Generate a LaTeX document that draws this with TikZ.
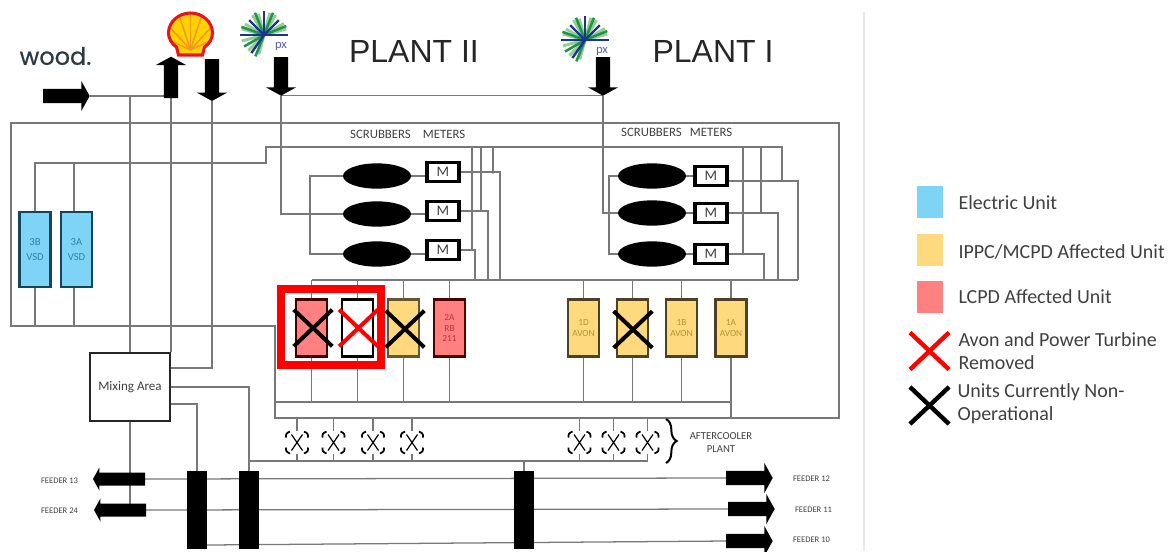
\documentclass[tikz,border=0pt]{standalone}
\usepackage{fontspec}
\setmainfont{Carlito}
\newfontfamily\plantfont{Liberation Sans}
\newfontfamily\woodfont[FakeBold=0.7]{Poppins}
\usetikzlibrary{shapes.arrows,shapes.geometric,shapes.misc,backgrounds,decorations.pathreplacing}
\definecolor{wirec}{rgb}{0.47,0.47,0.47}
\definecolor{textc}{rgb}{0.25,0.25,0.25}
\definecolor{elecc}{rgb}{0.49,0.83,0.96}
\definecolor{ippcc}{rgb}{1,0.85,0.49}
\definecolor{lcpdc}{rgb}{1,0.5,0.5}
\definecolor{vsdline}{rgb}{0.08,0.27,0.37}
\definecolor{vsdtext}{rgb}{0.2,0.51,0.67}
\definecolor{lcpdtext}{rgb}{0.75,0.2,0.24}
\definecolor{ippctext}{rgb}{0.73,0.57,0.2}
\tikzset{every picture/.style={line width=0.75pt}}
\tikzset{
  wire/.style={color=wirec,line width=0.95pt},
  blockarrow/.style={single arrow,fill=black,inner sep=4.9pt,outer sep=0pt,minimum height=#1,
    minimum width=21.75pt,single arrow head extend=6pt,single arrow tip angle=122,anchor=tail},
  feedarrow/.style={blockarrow=#1,inner sep=4.5pt,minimum width=16.5pt,single arrow head extend=3.75pt},
  unitbox/.style={rectangle,draw=#1,line width=1.9pt,minimum width=23pt,minimum height=43pt,inner sep=0pt,
    outer sep=0pt,align=center,font=\fontsize{7}{7.8}\selectfont},
  vsdbox/.style={unitbox=vsdline,fill=elecc,text=vsdtext,minimum height=56.5pt,font=\fontsize{8}{11.2}\selectfont},
  scrubber/.style={ellipse,fill=black,minimum width=51pt,minimum height=19pt,inner sep=0pt,outer sep=0pt},
  meterbox/.style={rectangle,draw=black,line width=2.4pt,minimum width=24pt,minimum height=14.5pt,inner sep=0pt,
    outer sep=1pt,text=textc,font=\fontsize{11}{11}\selectfont},
  barbox/.style={rectangle,fill=black,minimum width=15pt,minimum height=58.5pt,inner sep=0pt,outer sep=0pt},
  fanbox/.style={rectangle,minimum width=17pt,minimum height=17pt,inner sep=0pt,outer sep=0pt},
  crossmark/.style={cross out,draw=#1,line width=3pt,minimum width=26pt,minimum height=24.5pt,inner sep=0pt},
  legendbox/.style={rectangle,fill=#1,minimum width=19.5pt,minimum height=24pt,inner sep=0pt},
  legendtext/.style={anchor=west,inner sep=0pt,text=textc,align=left,font=\fontsize{15}{17.2}\selectfont},
  smalltext/.style={inner sep=0pt,text=textc,font=\fontsize{9.6}{9.6}\selectfont},
  feedertext/.style={inner sep=0pt,text=textc,font=\fontsize{6.4}{6.4}\selectfont},
  planttext/.style={inner sep=0pt,text=black!85,font=\plantfont\fontsize{24}{24}\selectfont},
  pics/pxlogo/.style={code={
    \foreach \a/\r in {105/20,135/22,165/23,195/23,210/22,240/23,255/22,285/23,300/23,330/23,345/23}
      \draw[color={rgb,255:red,150;green,205;blue,150},line width=2.2pt] (0,0) -- (-\a:\r);
    \foreach \a/\r in {112/23,150/23,200/24,248/24,292/24,338/24}
      \draw[color={rgb,255:red,30;green,150;blue,70},line width=1.9pt] (0,0) -- (-\a:\r);
    \foreach \a/\r in {125/22,180/24,225/21,270/24,315/21,0/24}
      \draw[color={rgb,255:red,30;green,50;blue,150},line width=1.8pt] (0,0) -- (-\a:\r);
    \node[inner sep=0pt,text={rgb,255:red,90;green,95;blue,175},font=\fontsize{9.5}{9.5}\selectfont] (#1) at (17,-11) {px};
  }},
}

\begin{document}
\begin{tikzpicture}[x=0.75pt,y=0.75pt,yscale=-1,xscale=1]
\useasboundingbox (0,0) rectangle (1169,551);

%Logos
\node[inner sep=0pt,text={rgb,255:red,43;green,58;blue,69},font=\woodfont\fontsize{18}{18}\selectfont] (woodlogo) at (55.5,56) {wood.};
\begin{scope}[shift={(190.5,34)}]
\begin{scope}
\clip (-12,21) -- (12,21) -- (14,13) .. controls (19,10) and (22,4) .. (22,-1) .. controls (22,-12) and (12,-21) .. (0,-21) .. controls (-12,-21) and (-22,-12) .. (-22,-1) .. controls (-22,4) and (-19,10) .. (-14,13) -- cycle;
\fill[color={rgb,255:red,255;green,210;blue,0}] (-25,-25) rectangle (25,25);
\foreach \a in {205,228,252,270,288,312,335}
  \draw[color={rgb,255:red,245;green,150;blue,30},line width=1.1pt] (0,16) -- +(\a:40);
\end{scope}
\draw[color={rgb,255:red,230;green,20;blue,30},line width=2.3pt] (-12,21) -- (12,21) -- (14,13) .. controls (19,10) and (22,4) .. (22,-1) .. controls (22,-12) and (12,-21) .. (0,-21) .. controls (-12,-21) and (-22,-12) .. (-22,-1) .. controls (-22,4) and (-19,10) .. (-14,13) -- cycle;
\end{scope}
\pic at (264,35) {pxlogo=pxtextb};
\pic at (585,40) {pxlogo=pxtexta};

% Text Node
\node[planttext] (plantii) at (414,51) {PLANT II};
\node[planttext] (planti) at (713,51) {PLANT I};

%Block Arrows
\node[blockarrow=35pt] (woodarrow) at (43,96) {};
\node[blockarrow=31pt,rotate=90] (shellarrow) at (171,98) {};
\node[blockarrow=31.5pt,rotate=270] (gasarrow) at (212,59) {};
\node[blockarrow=29pt,rotate=270] (pxarrowb) at (281,57) {};
\node[blockarrow=29pt,rotate=270] (pxarrowa) at (603,57) {};
\node[feedarrow=39pt,rotate=180] (feedxiii) at (145,479) {};
\node[feedarrow=39pt,rotate=180] (feedxxiv) at (146,510) {};
\node[blockarrow=35pt] (feedxii) at (726,478) {};
\node[blockarrow=35pt] (feedxi) at (728,509) {};
\node[blockarrow=35pt] (feedx) at (726,541) {};

%Units
\node[vsdbox] (vsdb) at (35,249.5) {3B\\VSD};
\node[vsdbox] (vsda) at (76.5,249.5) {3A\\VSD};
\node[unitbox=black!75!red,fill=lcpdc] (unita) at (311.5,328) {};
\node[unitbox=black,fill=white] (unitb) at (357.5,328) {};
\node[unitbox=black!60!ippcc,fill=ippcc] (unitc) at (403.5,328) {};
\node[unitbox=black!70!red,fill=lcpdc,text=lcpdtext] (unitd) at (449.5,328) {2A\\RB\\211};
\node[unitbox=black!70!ippcc,fill=ippcc,text=ippctext] (unite) at (583.5,328) {1D\\AVON};
\node[unitbox=black!70!ippcc,fill=ippcc] (unitf) at (632.5,328) {};
\node[unitbox=black!70!ippcc,fill=ippcc,text=ippctext] (unitg) at (681.5,328) {1B\\AVON};
\node[unitbox=black!70!ippcc,fill=ippcc,text=ippctext] (unith) at (731,328) {1A\\AVON};

%Scrubbers and meters
\foreach \n/\y/\m in {a/176/172,b/214/211,c/254/250}{
  \node[scrubber] (scrubii\n) at (377,\y) {};
  \node[meterbox] (meterii\n) at (443,\m) {M};
}
\foreach \n/\y in {a/176,b/213,c/254}{
  \node[scrubber] (scrubi\n) at (652,\y) {};
  \node[meterbox] (meteri\n) at (711,\y) {M};
}

%Mixing area, fans, bars
\node[rectangle,draw=black!85,line width=1.5pt,minimum width=60.5pt,minimum height=51.5pt,inner sep=0pt,outer sep=0.75pt,text=textc,font=\fontsize{9.8}{11}\selectfont] (mixing) at (130,387) {Mixing Area};
\foreach \i/\x in {1/297,2/333.5,3/373,4/412,5/579.5,6/613.5,7/647.5}{
  \node[fanbox] (fan\i) at (\x,442.5) {};
  \begin{scope}[shift={(fan\i)}]
  \draw[line width=0.9pt] (-5.5,-8) -- (5.5,8) (5.5,-8) -- (-5.5,8);
  \draw[line width=1.3pt] (-11,-5) .. controls (-11,-9) .. (-7,-11) (11,-5) .. controls (11,-9) .. (7,-11) (-11,5) .. controls (-11,9) .. (-7,11) (11,5) .. controls (11,9) .. (7,11);
  \end{scope}
}
\node[barbox] (bara) at (197,510) {};
\node[barbox] (barb) at (249,510) {};
\node[barbox] (barc) at (524,510) {};

\coordinate (framea) at (11,123);
\coordinate (frameb) at (839,123);
\coordinate (framec) at (839,418);
\coordinate (framed) at (275,418);
\coordinate (framee) at (275,326);
\coordinate (framef) at (11,326);
\coordinate (eleca) at (35,163);
\coordinate (elecb) at (266,163);
\coordinate (elecc) at (266,147);
\coordinate (elecd) at (782,147);
\coordinate (unitbus) at (798,280);
\coordinate (returnbus) at (731,402);
\coordinate (coolbus) at (647.5,461);
\coordinate (mixtop) at (171,368);
\coordinate (mixlow) at (171,404);
\coordinate (feedlow) at (207,545);
\coordinate (tieiia) at (310,176);
\coordinate (tieiic) at (310,254);
\coordinate (tieia) at (609,176);
\coordinate (tieic) at (609,254);
\coordinate (busiia) at (500,280);
\coordinate (busiib) at (488,280);
\coordinate (busiic) at (475,280);
\coordinate (busia) at (798,280);
\coordinate (busib) at (778,280);
\coordinate (busic) at (764,280);
\coordinate (tapiia) at (493,147);
\coordinate (tapiib) at (481,147);
\coordinate (tapiic) at (472,147);
\coordinate (tapib) at (761,147);
\coordinate (tapic) at (743,147);
\coordinate (outia) at (728,181);
\coordinate (bracea) at (666,419);
\coordinate (braceb) at (666,463);

\begin{scope}[on background layer]
%Straight Lines
\draw[wire] (framea) -- (frameb) -- (framec) -- (framed) -- (framee) -- (framef) -- cycle;
\draw[wire] (vsdb.north) -- (eleca) -- (elecb) -- (elecc) -- (elecd) -- (elecd |- outia);
\draw[wire] ([xshift=-1.8pt]vsda.north) -- ([xshift=-1.8pt]vsda.north |- eleca);
\draw[wire] (vsdb.south) -- (vsdb.south |- framef);
\draw[wire] ([xshift=-1.8pt]vsda.south) -- ([xshift=-1.8pt]vsda.south |- framef);
\draw[wire] (woodarrow.tip) -- (woodarrow.tip -| shellarrow.tail);
\draw[wire] (mixing.north |- woodarrow.tip) -- (mixing.north);
\draw[wire] (shellarrow.tail) -- (shellarrow.tail |- mixing.north);
\draw[wire] (gasarrow.tip) |- (mixtop);
\draw[wire] (mixing.south) -- (mixing.south |- feedxxiv.tail);
\draw[wire] (mixing.east) -| (barb.north);
\draw[wire] (mixlow) -| (bara.north);
\draw[wire] (pxarrowb.tip) -- (pxarrowa.tip);
\draw[wire] (pxarrowb.tip) |- (scrubiib.west);
\draw[wire] (pxarrowa.tip) |- (scrubib.west);
\draw[wire] (scrubiia.west) -- (tieiia) -- (tieiic) -- (scrubiic.west);
\draw[wire] (scrubia.west) -- (tieia) -- (tieic) -- (scrubic.west);
\foreach \n in {a,b,c}{
  \draw[wire] (scrubii\n.east) -- (scrubii\n.east -| meterii\n.west);
  \draw[wire] (scrubi\n.east) -- (scrubi\n.east -| meteri\n.west);
  \draw[wire] (meterii\n.east) -| (busii\n);
  \draw[wire] (tapii\n) -- (tapii\n |- meterii\n.east);
}
\draw[wire] (outia) -| (busia);
\draw[wire] (meterib.east) -| (busib);
\draw[wire] (meteric.east) -| (busic);
\draw[wire] (tapib) -- (tapib |- meterib.east);
\draw[wire] (tapic) -- (tapic |- meteric.east);
\draw[wire] (unita.north |- unitbus) -- (unitbus);
\draw[wire] (framed |- returnbus) -- (returnbus);
\foreach \u in {a,b,c,d,e,f,g,h}{
  \draw[wire] (unit\u.north) -- (unit\u.north |- unitbus);
  \draw[wire] (unit\u.south) -- (unit\u.south |- returnbus);
}
\draw[wire] (returnbus) -- (returnbus |- framed);
\foreach \i in {1,...,7}{
  \draw[wire] (fan\i.north) -- (fan\i.north |- framed);
  \draw[wire] (fan\i.south) -- (fan\i.south |- coolbus);
}
\draw[wire] (barb.north |- coolbus) -- (coolbus);
\draw[wire] (barc.north) -- (barc.north |- coolbus);
\draw[wire] (feedxiii.tail) -- (feedxii.tail);
\draw[wire] (feedxxiv.tail) -- (feedxi.tail);
\draw[wire] (feedlow) -- (feedx.tail);
%Junctions
\foreach \x/\y in {130/123,171/123,212/123,281/123,603/123,130/163,171/163,212/163,281/147,603/147,130/326,171/326,212/326,310/214,472/172,481/172,493/172,472/211,743/181,761/181,743/213}
  \fill[wirec] (\x,\y) circle (1.9);
%Separator
\draw[color=black!9,line width=0.9pt] (864,12) -- (864,551);
\end{scope}

%Removed units box and crosses
\node[rectangle,draw=red,line width=6pt,minimum width=75pt,minimum height=57pt,inner sep=0pt] (removedbox) at (331,327) {};
\node[crossmark=black] (crossa) at (313,328) {};
\node[crossmark=red] (crossb) at (358.5,328) {};
\node[crossmark=black] (crossc) at (405,329) {};
\node[crossmark=black] (crossd) at (633,329.5) {};

%Brace
\draw[line width=1.5pt,decorate,decoration={brace,amplitude=8pt}] (bracea) -- (braceb);

% Text Node
\node[smalltext] (scrubtextii) at (380.5,134) {SCRUBBERS};
\node[smalltext] (metertextii) at (444,134) {METERS};
\node[smalltext] (scrubtexti) at (651.5,132) {SCRUBBERS};
\node[smalltext] (metertexti) at (711,132) {METERS};
\node[smalltext,align=center,font=\fontsize{8}{9.6}\selectfont] (coolertext) at (721,442.5) {AFTERCOOLER\\PLANT};
\node[feedertext] (feedtextxiii) at (59.5,481) {FEEDER 13};
\node[feedertext] (feedtextxxiv) at (59.5,511) {FEEDER 24};
\node[feedertext] (feedtextxii) at (811.5,479) {FEEDER 12};
\node[feedertext] (feedtextxi) at (813.5,510) {FEEDER 11};
\node[feedertext] (feedtextx) at (811.5,540) {FEEDER 10};

%Legend
\node[legendbox=elecc] (keyelec) at (930,202) {};
\node[legendbox=ippcc] (keyippc) at (930,250) {};
\node[legendbox=lcpdc] (keylcpd) at (930,296.5) {};
\node[crossmark=red,line width=3.3pt] (keyred) at (929.5,351) {};
\node[crossmark=black,line width=3.3pt] (keyblack) at (929.5,405.5) {};
\node[legendtext] (textelec) at (958,203) {Electric Unit};
\node[legendtext] (textippc) at (958,252) {IPPC/MCPD Affected Unit};
\node[legendtext] (textlcpd) at (958,297) {LCPD Affected Unit};
\node[legendtext] (textred) at (958,351.5) {Avon and Power Turbine\\Removed};
\node[legendtext] (textblack) at (957,403.5) {Units Currently Non-\\Operational};

\end{tikzpicture}
\end{document}
